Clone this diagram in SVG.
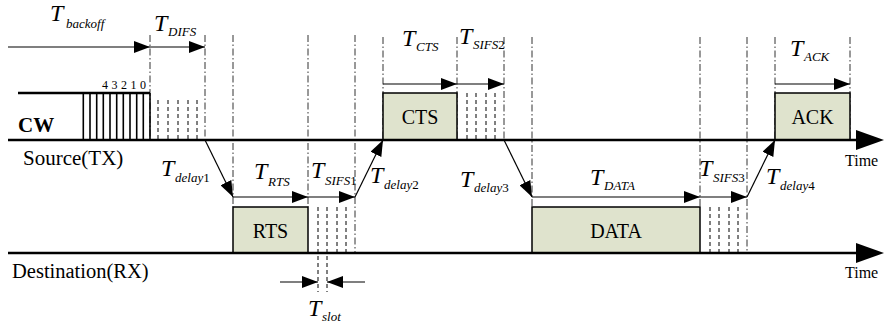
<svg xmlns="http://www.w3.org/2000/svg" width="885" height="329" viewBox="0 0 885 329" font-family="'Liberation Serif', 'Times New Roman', serif">
<defs>
<style>
.axis{stroke:#000;stroke-width:2.5;fill:none}
.guide{stroke:#333;stroke-width:1;stroke-dasharray:7 2.5 1.5 2.5;fill:none}
.dash{stroke:#000;stroke-width:1;stroke-dasharray:4 3;fill:none}
.bar{stroke:#000;stroke-width:1.6}
.arr{stroke:#000;stroke-width:1.2;fill:none;marker-end:url(#ah)}
.box{fill:#dfe3cd;stroke:#000;stroke-width:1.5}
text{font-family:'Liberation Serif','Times New Roman',serif;fill:#000}
.T{font-style:italic;font-size:24px}
.s{font-style:italic;font-size:13px}
.n{font-style:normal}
.lbl{font-size:20px;text-anchor:middle}
.big{font-size:21px}
.time{font-size:16px}
</style>
<marker id="ah" viewBox="0 0 16 12" refX="16" refY="6" markerWidth="16" markerHeight="12" markerUnits="userSpaceOnUse" orient="auto">
<path d="M0,0 L16,6 L0,12 Z" fill="#000"/>
</marker>
<marker id="big" viewBox="0 0 28 20" refX="2" refY="10" markerWidth="28" markerHeight="20" markerUnits="userSpaceOnUse" orient="auto">
<path d="M0,0 L28,10 L0,20 Z" fill="#000"/>
</marker>
</defs>

<g id="guides">
<line class="guide" x1="150" y1="35" x2="150" y2="140"/>
<line class="guide" x1="205" y1="35" x2="205" y2="140"/>
<line class="guide" x1="233" y1="35" x2="233" y2="207"/>
<line class="guide" x1="308" y1="35" x2="308" y2="207"/>
<line class="guide" x1="355" y1="35" x2="355" y2="253"/>
<line class="guide" x1="383" y1="37" x2="383" y2="140"/>
<line class="guide" x1="457" y1="37" x2="457" y2="140"/>
<line class="guide" x1="504" y1="37" x2="504" y2="140"/>
<line class="guide" x1="532" y1="37" x2="532" y2="207"/>
<line class="guide" x1="700" y1="37" x2="700" y2="207"/>
<line class="guide" x1="747" y1="37" x2="747" y2="253"/>
<line class="guide" x1="775" y1="37" x2="775" y2="140"/>
<line class="guide" x1="850" y1="37" x2="850" y2="140"/>
</g>

<g id="slots">
<line class="dash" x1="158" y1="100" x2="158" y2="140"/>
<line class="dash" x1="168" y1="100" x2="168" y2="140"/>
<line class="dash" x1="178" y1="100" x2="178" y2="140"/>
<line class="dash" x1="188" y1="100" x2="188" y2="140"/>
<line class="dash" x1="197" y1="100" x2="197" y2="140"/>
<line class="dash" x1="467" y1="93" x2="467" y2="140"/>
<line class="dash" x1="476" y1="93" x2="476" y2="140"/>
<line class="dash" x1="486" y1="93" x2="486" y2="140"/>
<line class="dash" x1="495" y1="93" x2="495" y2="140"/>
<line class="dash" x1="318" y1="207" x2="318" y2="292"/>
<line class="dash" x1="327" y1="207" x2="327" y2="292"/>
<line class="dash" x1="337" y1="207" x2="337" y2="253"/>
<line class="dash" x1="346" y1="207" x2="346" y2="253"/>
<line class="dash" x1="710" y1="207" x2="710" y2="253"/>
<line class="dash" x1="719" y1="207" x2="719" y2="253"/>
<line class="dash" x1="729" y1="207" x2="729" y2="253"/>
<line class="dash" x1="738" y1="207" x2="738" y2="253"/>
</g>

<g id="cw">
<line class="axis" x1="18" y1="93" x2="150" y2="93"/>
<line class="bar" x1="83.3" y1="93" x2="83.3" y2="140"/>
<line class="bar" x1="90" y1="93" x2="90" y2="140"/>
<line class="bar" x1="96.7" y1="93" x2="96.7" y2="140"/>
<line class="bar" x1="103.3" y1="93" x2="103.3" y2="140"/>
<line class="bar" x1="110" y1="93" x2="110" y2="140"/>
<line class="bar" x1="116.7" y1="93" x2="116.7" y2="140"/>
<line class="bar" x1="123.3" y1="93" x2="123.3" y2="140"/>
<line class="bar" x1="130" y1="93" x2="130" y2="140"/>
<line class="bar" x1="136.7" y1="93" x2="136.7" y2="140"/>
<line class="bar" x1="143.3" y1="93" x2="143.3" y2="140"/>
<line class="bar" x1="150" y1="93" x2="150" y2="140"/>
<text x="18" y="132" class="big" font-weight="bold">CW</text>
<text x="102" y="89" font-size="12" letter-spacing="3.5">43210</text>
</g>

<g id="rts"><rect class="box" x="233" y="207" width="75" height="46"/><text class="lbl" x="270.5" y="238">RTS</text></g>
<g id="cts"><rect class="box" x="383" y="93" width="74" height="47"/><text class="lbl" x="420" y="124">CTS</text></g>
<g id="data"><rect class="box" x="532" y="207" width="168" height="46"/><text class="lbl" x="616" y="238">DATA</text></g>
<g id="ack"><rect class="box" x="775" y="93" width="75" height="47"/><text class="lbl" x="812.5" y="124">ACK</text></g>

<g id="axes">
<line class="axis" x1="8" y1="140" x2="858" y2="140" marker-end="url(#big)"/>
<line class="axis" x1="8" y1="253" x2="858" y2="253" marker-end="url(#big)"/>
<text x="23" y="165" class="big">Source(TX)</text>
<text x="12" y="278" font-size="20.5">Destination(RX)</text>
<text x="845" y="166" class="time">Time</text>
<text x="845" y="278" class="time">Time</text>
</g>

<g id="connectors">
<line class="arr" x1="8" y1="47" x2="150" y2="47"/>
<line class="arr" x1="150" y1="47" x2="205" y2="47"/>
<line class="arr" x1="205" y1="140" x2="233" y2="197"/>
<line class="arr" x1="233" y1="197" x2="308" y2="197"/>
<line class="arr" x1="308" y1="197" x2="355" y2="197"/>
<line class="arr" x1="355" y1="197" x2="383" y2="140"/>
<line class="arr" x1="383" y1="84" x2="457" y2="84"/>
<line class="arr" x1="457" y1="84" x2="504" y2="84"/>
<line class="arr" x1="504" y1="140" x2="532" y2="197"/>
<line class="arr" x1="532" y1="197" x2="700" y2="197"/>
<line class="arr" x1="700" y1="197" x2="747" y2="197"/>
<line class="arr" x1="747" y1="197" x2="775" y2="140"/>
<line class="arr" x1="775" y1="84" x2="850" y2="84"/>
<line class="arr" x1="280" y1="282" x2="318" y2="282"/>
<line class="arr" x1="365" y1="282" x2="327" y2="282"/>
</g>

<g id="labels">
<text x="50" y="21" class="T" font-size="27">T<tspan class="s" x="66" y="28" font-size="15">backoff</tspan></text>
<text x="154" y="31" class="T">T<tspan class="s" x="168" y="36">DIFS</tspan></text>
<text x="161" y="176" class="T">T<tspan class="s" x="175" y="182">delay<tspan class="n">1</tspan></tspan></text>
<text x="254" y="179" class="T">T<tspan class="s" x="268" y="186">RTS</tspan></text>
<text x="311" y="178" class="T">T<tspan class="s" x="325" y="185" font-size="12">SIFS<tspan class="n">1</tspan></tspan></text>
<text x="370" y="183" class="T">T<tspan class="s" x="384" y="189">delay<tspan class="n">2</tspan></tspan></text>
<text x="402" y="46" class="T">T<tspan class="s" x="416" y="51">CTS</tspan></text>
<text x="459" y="44" class="T">T<tspan class="s" x="473" y="49" font-size="12">SIFS<tspan class="n">2</tspan></tspan></text>
<text x="460" y="187" class="T">T<tspan class="s" x="474" y="192">delay<tspan class="n">3</tspan></tspan></text>
<text x="590" y="185" class="T">T<tspan class="s" x="604" y="190">DATA</tspan></text>
<text x="699" y="176" class="T">T<tspan class="s" x="713" y="182" font-size="12">SIFS<tspan class="n">3</tspan></tspan></text>
<text x="766" y="184" class="T">T<tspan class="s" x="780" y="190">delay<tspan class="n">4</tspan></tspan></text>
<text x="790" y="56" class="T">T<tspan class="s" x="804" y="61">ACK</tspan></text>
<text x="308" y="316" class="T">T<tspan class="s" x="322" y="321">slot</tspan></text>
</g>
</svg>
